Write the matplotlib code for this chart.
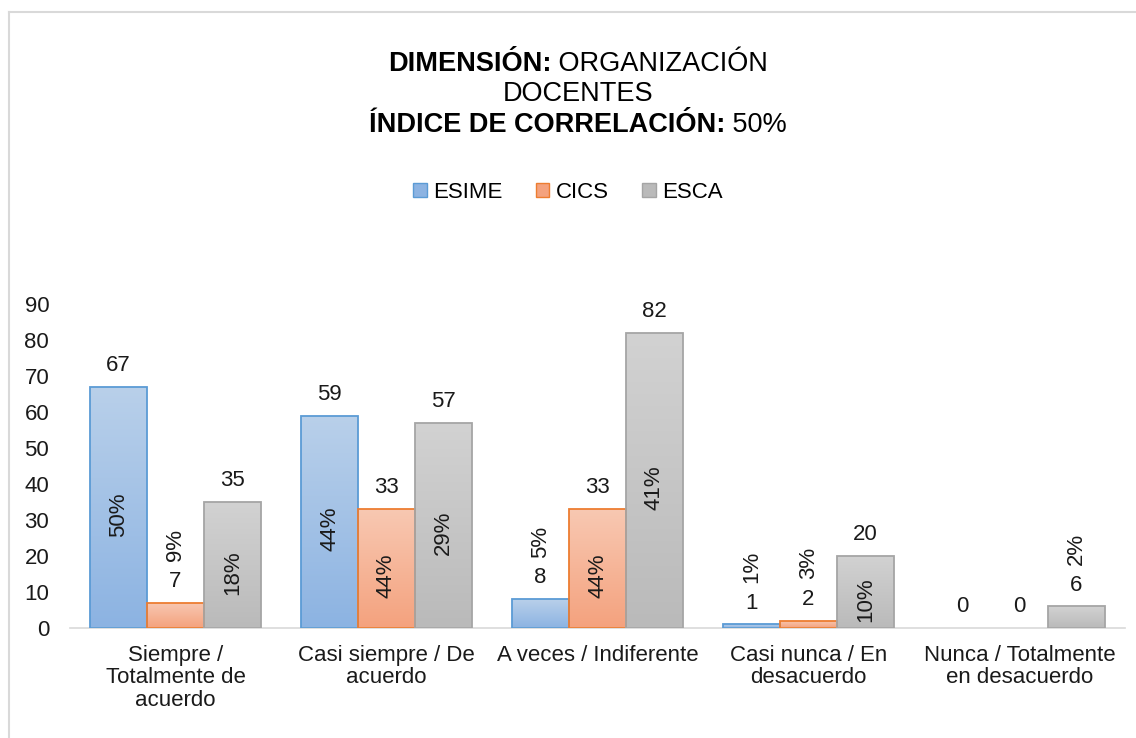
import matplotlib
matplotlib.use('Agg')
import matplotlib.pyplot as plt
import matplotlib.patches as mpatches
from matplotlib.lines import Line2D
import numpy as np

plt.rcParams['font.family'] = ['Liberation Sans', 'DejaVu Sans']

categories = ['Siempre /\nTotalmente de\nacuerdo', 'Casi siempre / De\nacuerdo',
              'A veces / Indiferente', 'Casi nunca / En\ndesacuerdo',
              'Nunca / Totalmente\nen desacuerdo']
series = ['ESIME', 'CICS', 'ESCA']
esime = [67, 59, 8, 1, 0]
cics = [7, 33, 33, 2, 0]
esca = [35, 57, 82, 20, 6]
esime_pct = [50, 44, 5, 1, 0]
cics_pct = [9, 44, 44, 3, 0]
esca_pct = [18, 29, 41, 10, 2]

# (top colour, bottom colour, edge)
styles = [('#b9d0ea', '#8cb3e2', '#5b9bd5'),
          ('#f8c8b2', '#f4a27e', '#ed7d31'),
          ('#d2d2d2', '#bababa', '#a5a5a5')]

text_size = 16
fig = plt.figure(figsize=(11.36, 7.38), dpi=100)
ax = fig.add_axes([70/1136, 1-628/738, 1055/1136, 324/738])

x = np.arange(len(categories))
width = 0.27
values = [esime, cics, esca]
pcts = [esime_pct, cics_pct, esca_pct]


def gradient_bar(ax, bar, top, bottom):
    x0, y0 = bar.get_x(), bar.get_y()
    w, h = bar.get_width(), bar.get_height()
    if h <= 0:
        bar.set_linewidth(0)
        return
    c1 = np.array(matplotlib.colors.to_rgb(top))
    c2 = np.array(matplotlib.colors.to_rgb(bottom))
    t = np.linspace(0, 1, 100)[:, None]
    img = (c1 * (1 - t) + c2 * t)[:, None, :]
    im = ax.imshow(img, extent=[x0, x0 + w, y0, y0 + h], aspect='auto',
                   origin='upper', zorder=2)
    im.set_clip_path(bar)


for i, (vals, pct, st) in enumerate(zip(values, pcts, styles)):
    pos = x + (i - 1) * width
    bars = ax.bar(pos, vals, width, facecolor='none', edgecolor=st[2],
                  linewidth=1.3, zorder=3)
    for b in bars:
        gradient_bar(ax, b, st[0], st[1])
    for xp, v, p in zip(pos, vals, pct):
        ax.text(xp, v + 3, str(v), ha='center', va='bottom', fontsize=text_size,
                color='#1a1a1a', zorder=4)
        if p == 0:
            continue
        if v >= 15:
            yp = v / 2 - 2
        else:
            yp = v + 16
        ax.text(xp, yp, f'{p}%', rotation=90, ha='center', va='center',
                fontsize=text_size, color='#1a1a1a', zorder=4)

ax.set_xlim(-0.5, len(categories) - 0.5)
ax.set_ylim(0, 90)
ax.set_yticks(range(0, 91, 10))
ax.set_xticks(x)
ax.set_xticklabels(categories, fontsize=text_size, linespacing=1.1)
ax.tick_params(axis='y', length=0, pad=15, labelsize=text_size, colors='#1a1a1a')
ax.tick_params(axis='x', length=0, pad=12, colors='#1a1a1a')
for s in ['top', 'right', 'left']:
    ax.spines[s].set_visible(False)
ax.spines['bottom'].set_color('#d9d9d9')
ax.spines['bottom'].set_linewidth(1.2)

# legend
handles = [mpatches.Patch(facecolor=st[1], edgecolor=st[2], label=s)
           for s, st in zip(series, styles)]
fig.legend(handles=handles, loc='center', bbox_to_anchor=(568/1136, 1-192/738),
           ncol=3, frameon=False, fontsize=text_size, handlelength=0.6,
           handleheight=0.6, handletextpad=0.3, columnspacing=1.5)

# title with bold/regular parts
title_lines = [[('DIMENSIÓN:', 'bold'), (' ORGANIZACIÓN', 'normal')],
               [('DOCENTES', 'normal')],
               [('ÍNDICE DE CORRELACIÓN:', 'bold'), (' 50%', 'normal')]]
title_y = [64, 94, 125]
renderer = fig.canvas.get_renderer()
for parts, yp in zip(title_lines, title_y):
    texts = []
    for s, w in parts:
        texts.append(fig.text(0, 1 - yp/738, s, fontsize=19.5, fontweight=w,
                              ha='left', va='center', color='black'))
    widths = [t.get_window_extent(renderer).width for t in texts]
    start = 578 - sum(widths) / 2
    for t, wd in zip(texts, widths):
        t.set_x(start / 1136)
        start += wd

# chart frame (top and left edges visible)
fig.add_artist(Line2D([9/1136, 9/1136], [0, 1 - 12/738], color='#d9d9d9', lw=1.5))
fig.add_artist(Line2D([9/1136, 1], [1 - 12/738, 1 - 12/738], color='#d9d9d9', lw=1.5))

fig.savefig('out.png', dpi=100, facecolor='white')
